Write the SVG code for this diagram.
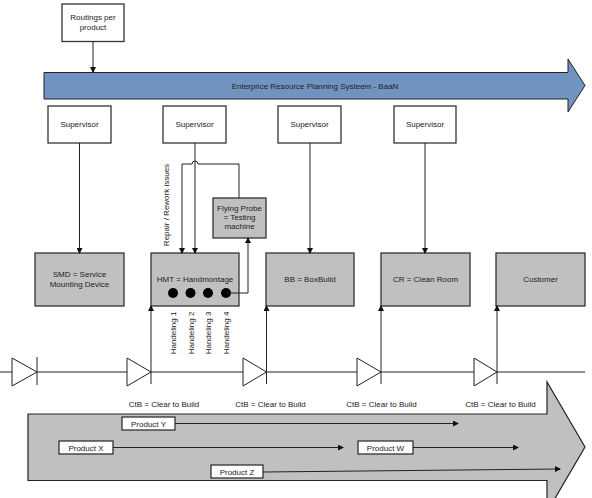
<svg xmlns="http://www.w3.org/2000/svg" width="592" height="498" viewBox="0 0 592 498">
<defs>
<marker id="ah" markerWidth="6" markerHeight="6" refX="5" refY="3" orient="auto" markerUnits="userSpaceOnUse">
<path d="M0,0 L6,3 L0,6 Z" fill="#111"/>
</marker>
<style>
text{font-family:"Liberation Sans",Arial,sans-serif;font-size:8px;fill:#222;text-anchor:middle}
.w{fill:#fff;stroke:#333;stroke-width:1.3}
.g{fill:#c0c0c0;stroke:#333;stroke-width:1.3}
.ln{fill:none;stroke:#222;stroke-width:1}
.tri{fill:#fff;stroke:#222;stroke-width:1}
</style>
</defs>
<rect width="592" height="498" fill="#fff"/>

<g id="erp">
<path d="M44,72.5 H568 V59 L585,85.5 L568,112 V99 H44 Z" fill="#7093bf" stroke="#222" stroke-width="1"/>
<text x="315" y="88.5">Enterprice Resource Planning Systeem - BaaN</text>
</g>

<g id="products-arrow">
<path d="M28,414 H547 V382 L585,447 L547,512 V480.5 H28 Z" fill="#c0c0c0" stroke="#222" stroke-width="1.2"/>
</g>

<g id="routings"><rect class="w" x="62" y="4" width="62" height="37.5"/><text x="93" y="20">Routings per</text><text x="93" y="30">product</text></g>

<g id="sup1"><rect class="w" x="48" y="106" width="63" height="37"/><text x="79.5" y="127">Supervisor</text></g>
<g id="sup2"><rect class="w" x="163" y="106" width="63" height="37"/><text x="194.5" y="127">Supervisor</text></g>
<g id="sup3"><rect class="w" x="278" y="106" width="63" height="37"/><text x="309.5" y="127">Supervisor</text></g>
<g id="sup4"><rect class="w" x="394" y="106" width="62" height="37"/><text x="425" y="127">Supervisor</text></g>

<g id="smd"><rect class="g" x="35" y="253" width="89" height="53"/><text x="79.5" y="277">SMD = Service</text><text x="79.5" y="287">Mounting Device</text></g>
<g id="hmt"><rect class="g" x="151" y="253" width="88" height="53"/><text x="195" y="282">HMT = Handmontage</text>
<circle cx="173" cy="293" r="5" fill="#000"/><circle cx="190.5" cy="293" r="5" fill="#000"/><circle cx="208" cy="293" r="5" fill="#000"/><circle cx="226" cy="293" r="5" fill="#000"/></g>
<g id="bb"><rect class="g" x="266" y="253" width="88" height="53"/><text x="310" y="282">BB = BoxBuild</text></g>
<g id="cr"><rect class="g" x="381" y="253" width="89" height="53"/><text x="425.5" y="282">CR = Clean Room</text></g>
<g id="customer"><rect class="g" x="496" y="253" width="89" height="53"/><text x="540.5" y="282">Customer</text></g>
<g id="flyingprobe"><rect class="g" x="213" y="198" width="53" height="40"/><text x="239.5" y="211">Flying Probe</text><text x="239.5" y="220">= Testing</text><text x="239.5" y="229">machine</text></g>

<g id="labels">
<text transform="translate(169,205) rotate(-90)">Repair / Rework issues</text>
<text transform="translate(176,333) rotate(-90)">Handeling 1</text>
<text transform="translate(193.5,333) rotate(-90)">Handeling 2</text>
<text transform="translate(211,333) rotate(-90)">Handeling 3</text>
<text transform="translate(229,333) rotate(-90)">Handeling 4</text>
<text x="164" y="407">CtB = Clear to Build</text>
<text x="270.5" y="407">CtB = Clear to Build</text>
<text x="381.5" y="407">CtB = Clear to Build</text>
<text x="500.5" y="407">CtB = Clear to Build</text>
</g>

<g id="connectors">
<line class="ln" x1="93" y1="41.5" x2="93" y2="72" marker-end="url(#ah)"/>
<line class="ln" x1="79.5" y1="143" x2="79.5" y2="253" marker-end="url(#ah)"/>
<line class="ln" x1="195" y1="143" x2="195" y2="253" marker-end="url(#ah)"/>
<line class="ln" x1="310" y1="143" x2="310" y2="253" marker-end="url(#ah)"/>
<line class="ln" x1="425" y1="143" x2="425" y2="253" marker-end="url(#ah)"/>
<path class="ln" d="M239,198 V164 H198 A3,3 0 0 0 192,164 H182 V253" marker-end="url(#ah)"/>
<path class="ln" d="M226,293 H248 V238" marker-end="url(#ah)"/>
<line class="ln" x1="0" y1="372" x2="585" y2="372"/>
<line class="ln" x1="151" y1="384" x2="151" y2="306" marker-end="url(#ah)"/>
<line class="ln" x1="266.5" y1="384" x2="266.5" y2="306" marker-end="url(#ah)"/>
<line class="ln" x1="381" y1="384" x2="381" y2="306" marker-end="url(#ah)"/>
<line class="ln" x1="497" y1="384" x2="497" y2="306" marker-end="url(#ah)"/>
<line class="ln" x1="37" y1="357" x2="37" y2="385"/>
<path class="tri" d="M12,358 L37,372 L12,386 Z"/>
<path class="tri" d="M127,358 L151,372 L127,386 Z"/>
<path class="tri" d="M243,358 L266.5,372 L243,386 Z"/>
<path class="tri" d="M357,358 L381,372 L357,386 Z"/>
<path class="tri" d="M474,358 L497,372 L474,386 Z"/>
<line class="ln" x1="175" y1="423.5" x2="458" y2="423.5" marker-end="url(#ah)"/>
<line class="ln" x1="113" y1="447.5" x2="343" y2="447.5" marker-end="url(#ah)"/>
<line class="ln" x1="413" y1="447.5" x2="518" y2="447.5" marker-end="url(#ah)"/>
<line class="ln" x1="263" y1="472" x2="560" y2="469" marker-end="url(#ah)"/>
</g>

<g id="productY"><rect class="w" x="122" y="417" width="53" height="13"/><text x="148.5" y="426.5">Product Y</text></g>
<g id="productX"><rect class="w" x="59" y="441" width="54" height="13"/><text x="86" y="450.5">Product X</text></g>
<g id="productW"><rect class="w" x="358" y="441" width="55" height="13"/><text x="385.5" y="450.5">Product W</text></g>
<g id="productZ"><rect class="w" x="211" y="465" width="52" height="13"/><text x="237" y="474.5">Product Z</text></g>
</svg>
